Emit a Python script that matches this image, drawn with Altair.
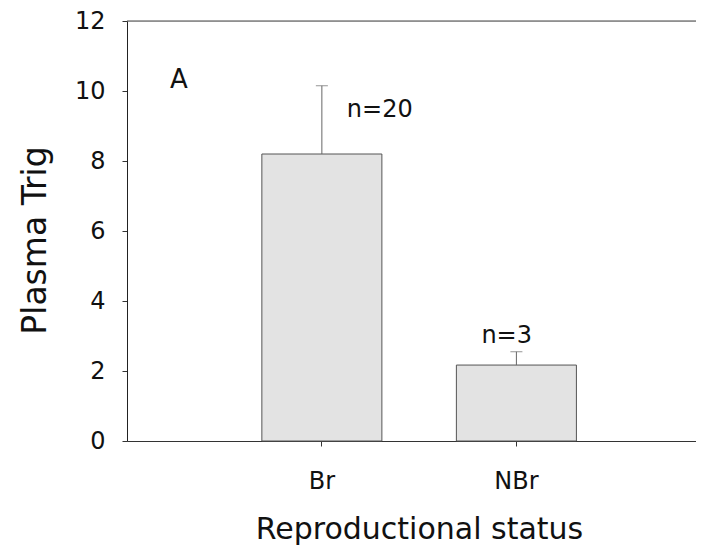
import altair as alt
import pandas as pd

# ---- data ----
categories = ["Br", "NBr"]
means = [8.2, 2.17]
upper = [10.15, 2.55]
n_labels = ["n=20", "n=3"]
label_y = [9.25, 2.8]
y_ticks = [0, 2, 4, 6, 8, 10, 12]
panel_letter = "A"

df = pd.DataFrame({"status": categories, "mean": means, "upper": upper,
                   "label": n_labels, "label_y": label_y})

FONT = "DejaVu Sans"

x_enc = alt.X("status:N", sort=categories,
              scale=alt.Scale(paddingInner=0.383, paddingOuter=0.654, align=0.53),
              axis=alt.Axis(title="Reproductional status", labelAngle=0,
                            labelFont=FONT, labelFontSize=24, labelColor="#111",
                            labelBaseline="alphabetic", labelPadding=42,
                            tickSize=5, tickColor="#333", domainColor="#333",
                            titleFont=FONT, titleFontSize=30, titleFontWeight="normal",
                            titleColor="#111", titleBaseline="alphabetic",
                            titleX=292, titleY=97))

y_scale = alt.Scale(domain=[0, 12], nice=False)
y_axis = alt.Axis(title="Plasma Trig", values=y_ticks, grid=False,
                  labelFont=FONT, labelFontSize=24, labelColor="#111", labelPadding=17,
                  tickSize=5, tickColor="#333", domainColor="#222",
                  titleFont=FONT, titleFontSize=33, titleFontWeight="normal",
                  titleColor="#111", titleX=-75, titleY=219)

base = alt.Chart(df)

bars = base.mark_bar(fill="#e3e3e3", stroke="#555", strokeWidth=1).encode(
    x=x_enc,
    y=alt.Y("mean:Q", scale=y_scale, axis=y_axis),
)

err = base.mark_rule(color="#666", strokeWidth=1).encode(
    x=alt.X("status:N", sort=categories),
    y="mean:Q", y2="upper:Q",
)

caps = base.mark_tick(color="#666", thickness=1, size=12, orient="horizontal").encode(
    x=alt.X("status:N", sort=categories),
    y="upper:Q",
)

lab1 = base.transform_filter(alt.datum.status == categories[0]).mark_text(
    font=FONT, fontSize=24, color="#111", align="left", baseline="alphabetic", dx=25
).encode(x=alt.X("status:N", sort=categories), y="label_y:Q", text="label:N")

lab2 = base.transform_filter(alt.datum.status == categories[1]).mark_text(
    font=FONT, fontSize=24, color="#111", align="left", baseline="alphabetic", dx=-35
).encode(x=alt.X("status:N", sort=categories), y="label_y:Q", text="label:N")

top_line = alt.Chart(pd.DataFrame({"v": [12]})).mark_rule(color="#444", strokeWidth=1).encode(
    y=alt.Y("v:Q", scale=y_scale)
)

letter = alt.Chart(pd.DataFrame({"t": [panel_letter]})).mark_text(
    font=FONT, fontSize=26, color="#111", align="left", baseline="alphabetic"
).encode(x=alt.value(43), y=alt.value(67), text="t:N")

chart = alt.layer(bars, err, caps, lab1, lab2, top_line, letter).properties(
    width=569, height=420,
    autosize=alt.AutoSizeParams(type="none"),
    padding={"left": 119, "top": 13, "right": 0, "bottom": 105},
).configure_view(stroke=None).configure(background="white")

chart.save("out.html", embed_options={"renderer": "svg", "actions": False})
